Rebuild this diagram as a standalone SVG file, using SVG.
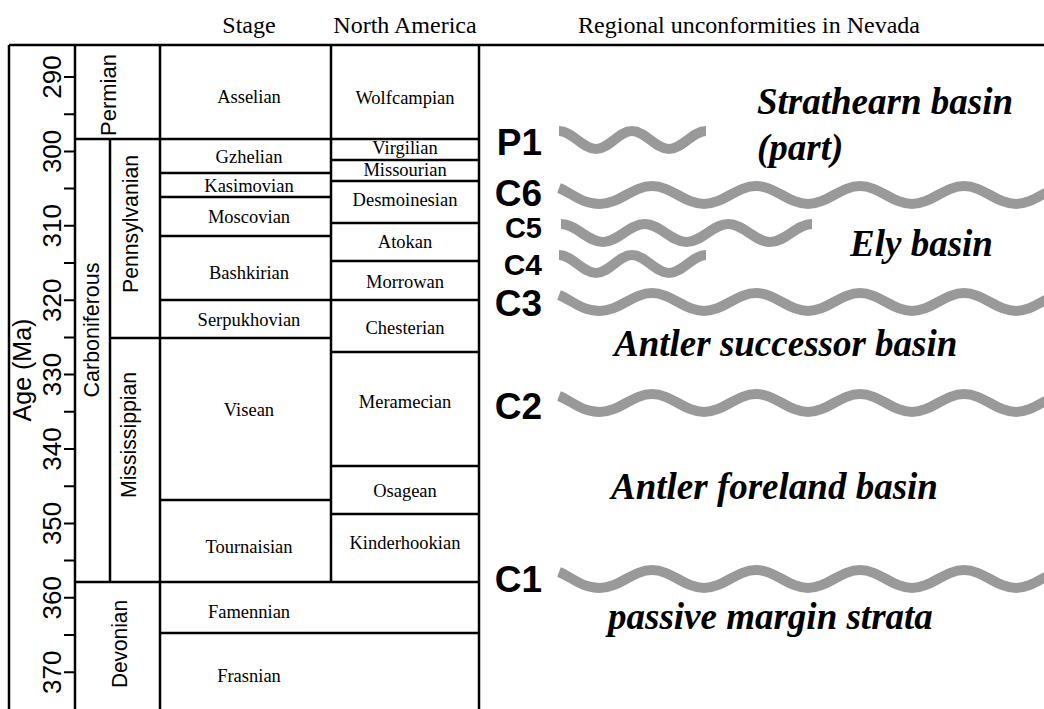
<svg xmlns="http://www.w3.org/2000/svg" width="1044" height="709" viewBox="0 0 1044 709">
<style>
.ln{stroke:#000;stroke-width:2.5;fill:none}
.tk{stroke:#000;stroke-width:2;fill:none}
.hd{font-family:"Liberation Serif","Times New Roman",serif;font-size:24px;text-anchor:middle;fill:#000}
.st{font-family:"Liberation Serif","Times New Roman",serif;font-size:18.5px;text-anchor:middle;fill:#000}
.per{font-family:"Liberation Sans",Arial,sans-serif;font-size:22px;text-anchor:middle;fill:#000}
.num{font-family:"Liberation Sans",Arial,sans-serif;font-size:26px;text-anchor:middle;fill:#000}
.age{font-family:"Liberation Sans",Arial,sans-serif;font-size:25px;text-anchor:middle;fill:#000}
.uc{font-family:"Liberation Sans",Arial,sans-serif;font-weight:bold;text-anchor:end;fill:#000}
.bz{font-family:"Liberation Serif","Times New Roman",serif;font-weight:bold;font-style:italic;font-size:37px;fill:#000}
.wv{fill:none;stroke:#999;stroke-width:10}
</style>
<rect width="1044" height="709" fill="#fff"/>

<g id="headers">
<text class="hd" x="249" y="33">Stage</text>
<text class="hd" x="405" y="33">North America</text>
<text class="hd" x="749" y="33" font-size="25">Regional unconformities in Nevada</text>
</g>

<g id="grid">
<path class="ln" d="M9,45H1044M9,45V709M75,45V709M160,45V709M331,45V582M479,45V709M110,139V582"/>
<path class="ln" d="M75,139H479M331,160H479M160,173H331M331,181H479M160,197H331M331,223H479M160,236H331M331,261H479M160,300H479M110,338H331M331,352H479M331,466H479M160,500H331M331,514H479M75,582H479M160,633H479"/>
</g>

<g id="age-axis">
<path class="tk" d="M64,77H75M64,114.2H75M64,151.4H75M64,188.6H75M64,225.8H75M64,263H75M64,300.2H75M64,337.4H75M64,374.6H75M64,411.8H75M64,449H75M64,486.2H75M64,523.4H75M64,560.6H75M64,597.8H75M64,635H75M64,672.2H75"/>
<text class="num" transform="translate(52,77) rotate(-90)" y="9.3">290</text>
<text class="num" transform="translate(52,151.4) rotate(-90)" y="9.3">300</text>
<text class="num" transform="translate(52,225.8) rotate(-90)" y="9.3">310</text>
<text class="num" transform="translate(52,300.2) rotate(-90)" y="9.3">320</text>
<text class="num" transform="translate(52,374.6) rotate(-90)" y="9.3">330</text>
<text class="num" transform="translate(52,449) rotate(-90)" y="9.3">340</text>
<text class="num" transform="translate(52,523.4) rotate(-90)" y="9.3">350</text>
<text class="num" transform="translate(52,597.8) rotate(-90)" y="9.3">360</text>
<text class="num" transform="translate(52,672.2) rotate(-90)" y="9.3">370</text>
<text class="age" transform="translate(22,370) rotate(-90)" y="9">Age (Ma)</text>
</g>

<g id="periods">
<text class="per" transform="translate(108,95) rotate(-90)" y="8">Permian</text>
<text class="per" transform="translate(91,330) rotate(-90)" y="8" textLength="135" lengthAdjust="spacingAndGlyphs">Carboniferous</text>
<text class="per" transform="translate(130,224) rotate(-90)" y="8" textLength="138" lengthAdjust="spacingAndGlyphs">Pennsylvanian</text>
<text class="per" transform="translate(128,435) rotate(-90)" y="8" textLength="126" lengthAdjust="spacingAndGlyphs">Mississippian</text>
<text class="per" transform="translate(119,644) rotate(-90)" y="8" textLength="88" lengthAdjust="spacingAndGlyphs">Devonian</text>
</g>

<g id="stages">
<text class="st" x="249" y="103">Asselian</text>
<text class="st" x="249" y="163">Gzhelian</text>
<text class="st" x="249" y="192">Kasimovian</text>
<text class="st" x="249" y="223">Moscovian</text>
<text class="st" x="249" y="279">Bashkirian</text>
<text class="st" x="249" y="326">Serpukhovian</text>
<text class="st" x="249" y="416">Visean</text>
<text class="st" x="249" y="553">Tournaisian</text>
<text class="st" x="249" y="618">Famennian</text>
<text class="st" x="249" y="682">Frasnian</text>
</g>

<g id="north-america">
<text class="st" x="405" y="104">Wolfcampian</text>
<text class="st" x="405" y="154">Virgilian</text>
<text class="st" x="405" y="176">Missourian</text>
<text class="st" x="405" y="206">Desmoinesian</text>
<text class="st" x="405" y="248">Atokan</text>
<text class="st" x="405" y="288">Morrowan</text>
<text class="st" x="405" y="334">Chesterian</text>
<text class="st" x="405" y="408">Meramecian</text>
<text class="st" x="405" y="497">Osagean</text>
<text class="st" x="405" y="549">Kinderhookian</text>
</g>

<g id="unconformities">
<path class="wv" d="M559,131 C572.4,131 582.6,149 596,149 S618.6,131 632,131 S655.6,149 669,149 S692.6,131 706,131"/>
<path class="wv" d="M559,188 C572,193 581,204 600,204 S633,186 652,186 S685,204 704,204 S737,186 756,186 S789,204 808,204 S841,186 860,186 S893,204 912,204 S945,186 964,186 S997,204 1016,204 S1049,186 1068,186"/>
<path class="wv" d="M561,224 C576.2,224 587.6,242 602.8,242 S629.5,224 644.7,224 S671.3,242 686.5,242 S713.1,224 728.3,224 S755,242 770.2,242 S796.8,224 812,224"/>
<path class="wv" d="M559,255 C572.4,255 582.6,273 596,273 S618.6,255 632,255 S655.6,273 669,273 S692.6,255 706,255"/>
<path class="wv" d="M559,295 C572,300 581,311 600,311 S633,293 652,293 S685,311 704,311 S737,293 756,293 S789,311 808,311 S841,293 860,293 S893,311 912,311 S945,293 964,293 S997,311 1016,311 S1049,293 1068,293"/>
<path class="wv" d="M559,396 C572,401 581,412 600,412 S633,394 652,394 S685,412 704,412 S737,394 756,394 S789,412 808,412 S841,394 860,394 S893,412 912,412 S945,394 964,394 S997,412 1016,412 S1049,394 1068,394"/>
<path class="wv" d="M559,572 C572,577 581,588 600,588 S633,570 652,570 S685,588 704,588 S737,570 756,570 S789,588 808,588 S841,570 860,570 S893,588 912,588 S945,570 964,570 S997,588 1016,588 S1049,570 1068,570"/>
<text class="uc" x="542" y="155" font-size="37">P1</text>
<text class="uc" x="542" y="206" font-size="37">C6</text>
<text class="uc" x="542" y="238" font-size="29">C5</text>
<text class="uc" x="542" y="275" font-size="30">C4</text>
<text class="uc" x="542" y="316" font-size="37">C3</text>
<text class="uc" x="542" y="419" font-size="37">C2</text>
<text class="uc" x="542" y="592" font-size="37">C1</text>
</g>

<g id="basins">
<text class="bz" x="757" y="114">Strathearn basin</text>
<text class="bz" x="757" y="160">(part)</text>
<text class="bz" x="850" y="256">Ely basin</text>
<text class="bz" x="614" y="356">Antler successor basin</text>
<text class="bz" x="611" y="499">Antler foreland basin</text>
<text class="bz" x="608" y="629">passive margin strata</text>
</g>
</svg>
